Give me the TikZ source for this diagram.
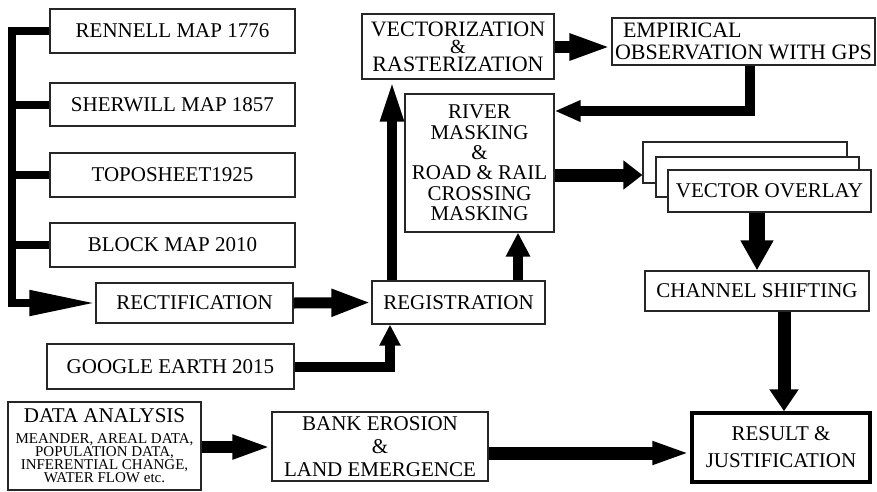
\documentclass[tikz,border=0pt]{standalone}
\usepackage{fontspec}
\setmainfont{Liberation Serif}
\usetikzlibrary{arrows.meta}
\newcommand\myfs[2]{\fontsize{#1}{#2}\selectfont\lineskiplimit=-30pt\lineskip=0pt}
\begin{document}
\begin{tikzpicture}[x=1pt,y=-1pt,
  box/.style={draw=black!85, line width=1.2pt, fill=white, inner sep=0pt, align=center, font=\myfs{21}{22}},
  conn/.style={line width=10pt, line join=miter, draw=black},
]
\useasboundingbox (0,0) rectangle (877,491);
\fill[white] (0,0) rectangle (877,491);

% helper coordinates
\coordinate (spx) at (12,0);
\coordinate (ax) at (392,0);
\coordinate (bx) at (518,0);
\coordinate (ex) at (750,0);
\coordinate (ey) at (0,111);
\coordinate (vy) at (0,47);
\coordinate (ry) at (0,175);
\coordinate (gx) at (390,0);
\coordinate (cx) at (784,0);
\coordinate (dy) at (0,447);
\coordinate (by) at (0,453);

% left column
\node[box, minimum width=245pt, minimum height=44pt] (ren) at (172.5,31) {RENNELL MAP 1776};
\node[box, minimum width=245pt, minimum height=43pt] (she) at (172.5,104.5) {SHERWILL MAP 1857};
\node[box, minimum width=245pt, minimum height=44pt] (topo) at (172.5,175) {TOPOSHEET1925};
\node[box, minimum width=245pt, minimum height=44pt] (blk) at (172.5,245) {BLOCK MAP 2010};
\node[box, minimum width=197pt, minimum height=40pt] (rect) at (194.5,303) {RECTIFICATION};
\node[box, minimum width=247pt, minimum height=45pt] (goog) at (170.5,366.5) {GOOGLE EARTH 2015};
\node[box, minimum width=193pt, minimum height=88pt, font=\myfs{15}{13}] (data) at (104.5,446)
  {{\fontsize{21}{21}\selectfont DATA ANALYSIS}\\[8pt]MEANDER, AREAL DATA,\\POPULATION DATA,\\INFERENTIAL CHANGE,\\WATER FLOW etc.};

% middle column
\node[box, minimum width=173pt, minimum height=43pt] (reg) at (458.5,302.5) {REGISTRATION};
\node[box, minimum width=192pt, minimum height=65pt, font=\myfs{22}{17.5}] (vect) at (458,46.5)
  {VECTORIZATION\\{\fontsize{20}{20}\selectfont\&}\\RASTERIZATION};
\node[box, minimum width=149pt, minimum height=138pt, font=\myfs{21}{20.4}] (river) at (479.5,163)
  {RIVER\\MASKING\\\&\\ROAD \& RAIL\\CROSSING\\MASKING};
\node[box, minimum width=216pt, minimum height=69pt, font=\myfs{21}{23}] (bank) at (380,446.5) {BANK EROSION\\\&\\LAND EMERGENCE};

% right column
\node[box, minimum width=263pt, minimum height=47pt, align=left, font=\myfs{22}{22}] (emp) at (743.5,41.5)
  {\hspace*{8pt}EMPIRICAL\\OBSERVATION WITH GPS};
\node[box, minimum width=204pt, minimum height=41pt] (vob) at (745,162.5) {};
\node[box, minimum width=203pt, minimum height=40pt] (vom) at (757.5,177) {};
\node[box, minimum width=203pt, minimum height=42pt] (vof) at (769.5,191) {VECTOR OVERLAY};
\node[box, minimum width=224pt, minimum height=40pt] (chan) at (757,291) {CHANNEL SHIFTING};
\node[box, line width=3.5pt, draw=black, minimum width=178pt, minimum height=69pt, font=\myfs{21}{27}] (res) at (781,447.5) {RESULT \&\\JUSTIFICATION};

% connectors: left spine
\draw[conn, line width=8pt, -{Triangle[length=66pt,width=24pt]}] (ren.west) -| (spx |- rect.west) -- (rect.west);
\draw[conn, line width=8pt] (she.west) -- (she.west -| spx);
\draw[conn, line width=8pt] (topo.west) -- (topo.west -| spx);
\draw[conn, line width=8pt] (blk.west) -- (blk.west -| spx);

\draw[conn, line width=11pt, -{Triangle[length=40pt,width=25pt]}] (rect.east) -- (reg.west);
\draw[conn, -{Triangle[length=42pt,width=21pt]}] (reg.north -| ax) -- (vect.south -| ax);
\draw[conn, -{Triangle[length=24pt,width=23pt]}] (reg.north -| bx) -- (river.south -| bx);
\draw[conn, line width=12pt, -{Triangle[length=42pt,width=24pt]}] (vect.east |- vy) -- (emp.west |- vy);
\draw[conn, -{Triangle[length=26pt,width=20pt]}] (emp.south -| ex) |- (river.east |- ey);
\draw[conn, line width=13pt, -{Triangle[length=19pt,width=28pt]}] (river.east |- ry) -- (vob.west |- ry);
\draw[conn, line width=16pt, -{Triangle[length=30pt,width=31pt]}] (vof.south -| chan.north) -- (chan.north);
\draw[conn, line width=13pt, -{Triangle[length=22pt,width=28pt]}] (chan.south -| cx) -- (res.north -| cx);
\draw[conn, -{Triangle[length=21pt,width=20pt]}] (goog.east) -| (gx |- reg.south);
\draw[conn, line width=12pt, -{Triangle[length=39pt,width=22pt]}] (data.east |- dy) -- (bank.west |- dy);
\draw[conn, line width=13pt, -{Triangle[length=38pt,width=21pt]}] (bank.east |- by) -- (res.west |- by);
\end{tikzpicture}
\end{document}
